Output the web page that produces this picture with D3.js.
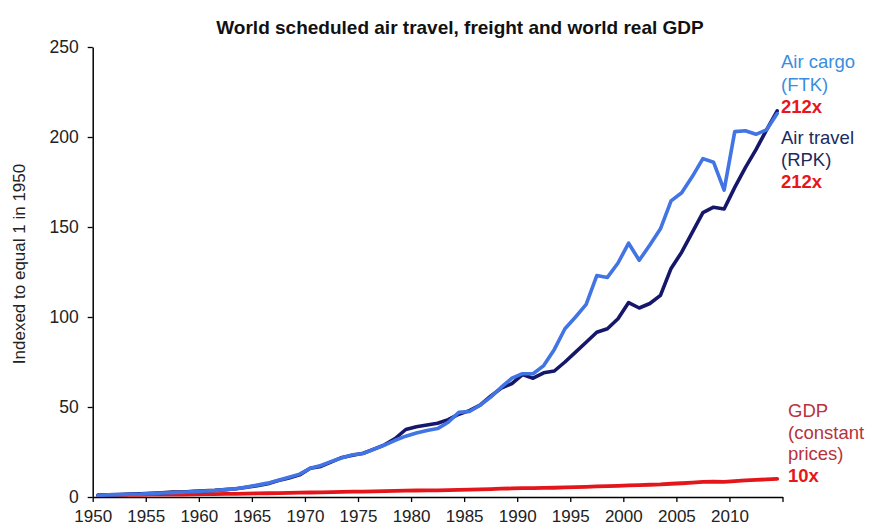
<!DOCTYPE html>
<html>
<head>
<meta charset="utf-8">
<script src="https://cdn.jsdelivr.net/npm/d3@7"></script>
<style>
  html, body { margin: 0; padding: 0; background: #fff; }
  svg { display: block; font-family: "Liberation Sans", Arial, Helvetica, sans-serif; }
</style>
</head>
<body>
<svg id="chart" width="871" height="525"></svg>
<script>
const years = d3.range(1950, 2015);
const rpk = [1.0,1.2,1.4,1.6,1.8,2.1,2.4,2.7,2.8,3.2,
             3.5,3.7,4.1,4.6,5.4,6.3,7.4,9.2,10.6,12.3,
             16.0,17.0,19.5,22.0,23.2,24.3,26.6,29.0,32.5,37.5,
             39.0,40.0,41.0,43.0,46.0,48.0,51.0,56.0,60.5,63.0,
             68.0,66.0,69.0,70.0,75.0,80.5,86.0,91.5,93.5,99.0,
             108.0,105.0,107.5,112.0,127.0,136.0,147.0,158.0,161.0,160.0,
             172.0,183.0,193.0,204.0,214.5];
const ftk = [1.0,1.2,1.3,1.5,1.6,1.9,2.2,2.4,2.6,3.0,
             3.3,3.6,4.1,4.6,5.5,6.6,7.7,9.3,11.0,12.7,
             16.0,17.5,19.8,21.8,23.5,24.2,26.5,28.8,31.5,33.8,
             35.5,37.0,38.0,41.5,47.0,47.5,51.0,55.5,61.0,66.0,
             68.5,68.5,73.0,82.0,93.5,100.0,107.0,123.0,122.0,130.0,
             141.0,131.5,140.0,149.0,164.5,169.0,178.0,188.0,186.0,170.5,
             203.0,203.5,201.5,204.0,213.0];
const gdp = [1.0,1.05,1.1,1.15,1.2,1.27,1.32,1.37,1.4,1.47,
             1.55,1.62,1.7,1.78,1.88,1.98,2.08,2.16,2.27,2.39,
             2.5,2.6,2.73,2.9,2.95,3.0,3.15,3.28,3.42,3.55,
             3.62,3.7,3.72,3.82,3.98,4.12,4.25,4.4,4.6,4.75,
             4.9,4.95,5.05,5.15,5.32,5.48,5.66,5.88,6.02,6.23,
             6.5,6.63,6.8,7.0,7.35,7.65,8.0,8.35,8.5,8.4,
             8.85,9.2,9.5,9.8,10.1];
const xTicks = [1950,1955,1960,1965,1970,1975,1980,1985,1990,1995,2000,2005,2010,2015];
const xTickLabels = ["1950","1955","1960","1965","1970","1975","1980","1985","1990","1995","2000","2005","2010",""];
const yTicks = [0,50,100,150,200,250];

const title = "World scheduled air travel, freight and world real GDP";
const yTitle = "Indexed to equal 1 in 1950";

const svg = d3.select("#chart");
const x = d3.scaleLinear().domain([1950, 2015]).range([92.7, 782.5]);
const y = d3.scaleLinear().domain([0, 250]).range([497, 47]);
const CENTER = 0.5; // points sit at the centre of each year's category

// Axes
const xAxis = d3.axisBottom(x).tickValues(xTicks).tickSize(5).tickSizeOuter(0)
  .tickFormat((d, i) => xTickLabels[i]);
const gx = svg.append("g").attr("transform", `translate(0,${y(0)})`).call(xAxis);
gx.select(".domain").attr("stroke", "#000").attr("stroke-width", 1.5);
gx.selectAll(".tick line").attr("stroke", "#000").attr("stroke-width", 1.3);
gx.selectAll(".tick text").attr("font-size", 17).attr("fill", "#222").attr("dy", null).attr("y", 25)
  .attr("font-family", "Liberation Sans, Arial, sans-serif");

const yAxis = d3.axisLeft(y).tickValues(yTicks).tickSize(5).tickSizeOuter(0).tickPadding(9);
const gy = svg.append("g").attr("transform", `translate(${x(1950)},0)`).call(yAxis);
gy.select(".domain").attr("stroke", "#000").attr("stroke-width", 1.5);
gy.selectAll(".tick line").attr("stroke", "#000").attr("stroke-width", 1.3);
gy.selectAll(".tick text").attr("font-size", 17.5).attr("fill", "#222")
  .attr("font-family", "Liberation Sans, Arial, sans-serif");

// Lines
const line = vals => d3.line()
  .x((d, i) => x(years[i] + CENTER))
  .y(d => y(d))
  .curve(d3.curveLinear)(vals);

svg.append("path").attr("d", line(gdp)).attr("fill", "none")
  .attr("stroke", "#e3161c").attr("stroke-width", 3.8).attr("stroke-linejoin", "round").attr("stroke-linecap", "round");
svg.append("path").attr("d", line(rpk)).attr("fill", "none")
  .attr("stroke", "#15176a").attr("stroke-width", 3.6).attr("stroke-linejoin", "round").attr("stroke-linecap", "round");
svg.append("path").attr("d", line(ftk)).attr("fill", "none")
  .attr("stroke", "#4274e4").attr("stroke-width", 3.6).attr("stroke-linejoin", "round").attr("stroke-linecap", "round");

// Title
svg.append("text").attr("x", 460).attr("y", 34).attr("text-anchor", "middle")
  .attr("font-size", 19).attr("font-weight", "bold").attr("fill", "#111").text(title);

// Y axis title
svg.append("text").attr("transform", "translate(25,264) rotate(-90)")
  .attr("text-anchor", "middle").attr("font-size", 17).attr("fill", "#222").text(yTitle);

// Series labels
const labels = [
  {x: 781, y: 68,  t: "Air cargo", c: "#3a8ee0", b: false},
  {x: 781, y: 91,  t: "(FTK)", c: "#3a8ee0", b: false},
  {x: 781, y: 113, t: "212x", c: "#e8161c", b: true},
  {x: 781, y: 144, t: "Air travel", c: "#1c2a5e", b: false},
  {x: 781, y: 166, t: "(RPK)", c: "#1c2a5e", b: false},
  {x: 781, y: 188, t: "212x", c: "#e8161c", b: true},
  {x: 788, y: 417, t: "GDP", c: "#b8323b", b: false},
  {x: 788, y: 439, t: "(constant", c: "#b8323b", b: false},
  {x: 788, y: 460, t: "prices)", c: "#b8323b", b: false},
  {x: 788, y: 482, t: "10x", c: "#e8161c", b: true}
];
svg.selectAll("text.lab").data(labels).enter().append("text").attr("class", "lab")
  .attr("x", d => d.x).attr("y", d => d.y).attr("fill", d => d.c)
  .attr("font-size", 18.5).attr("font-weight", d => d.b ? "bold" : "normal").text(d => d.t);
</script>
</body>
</html>
